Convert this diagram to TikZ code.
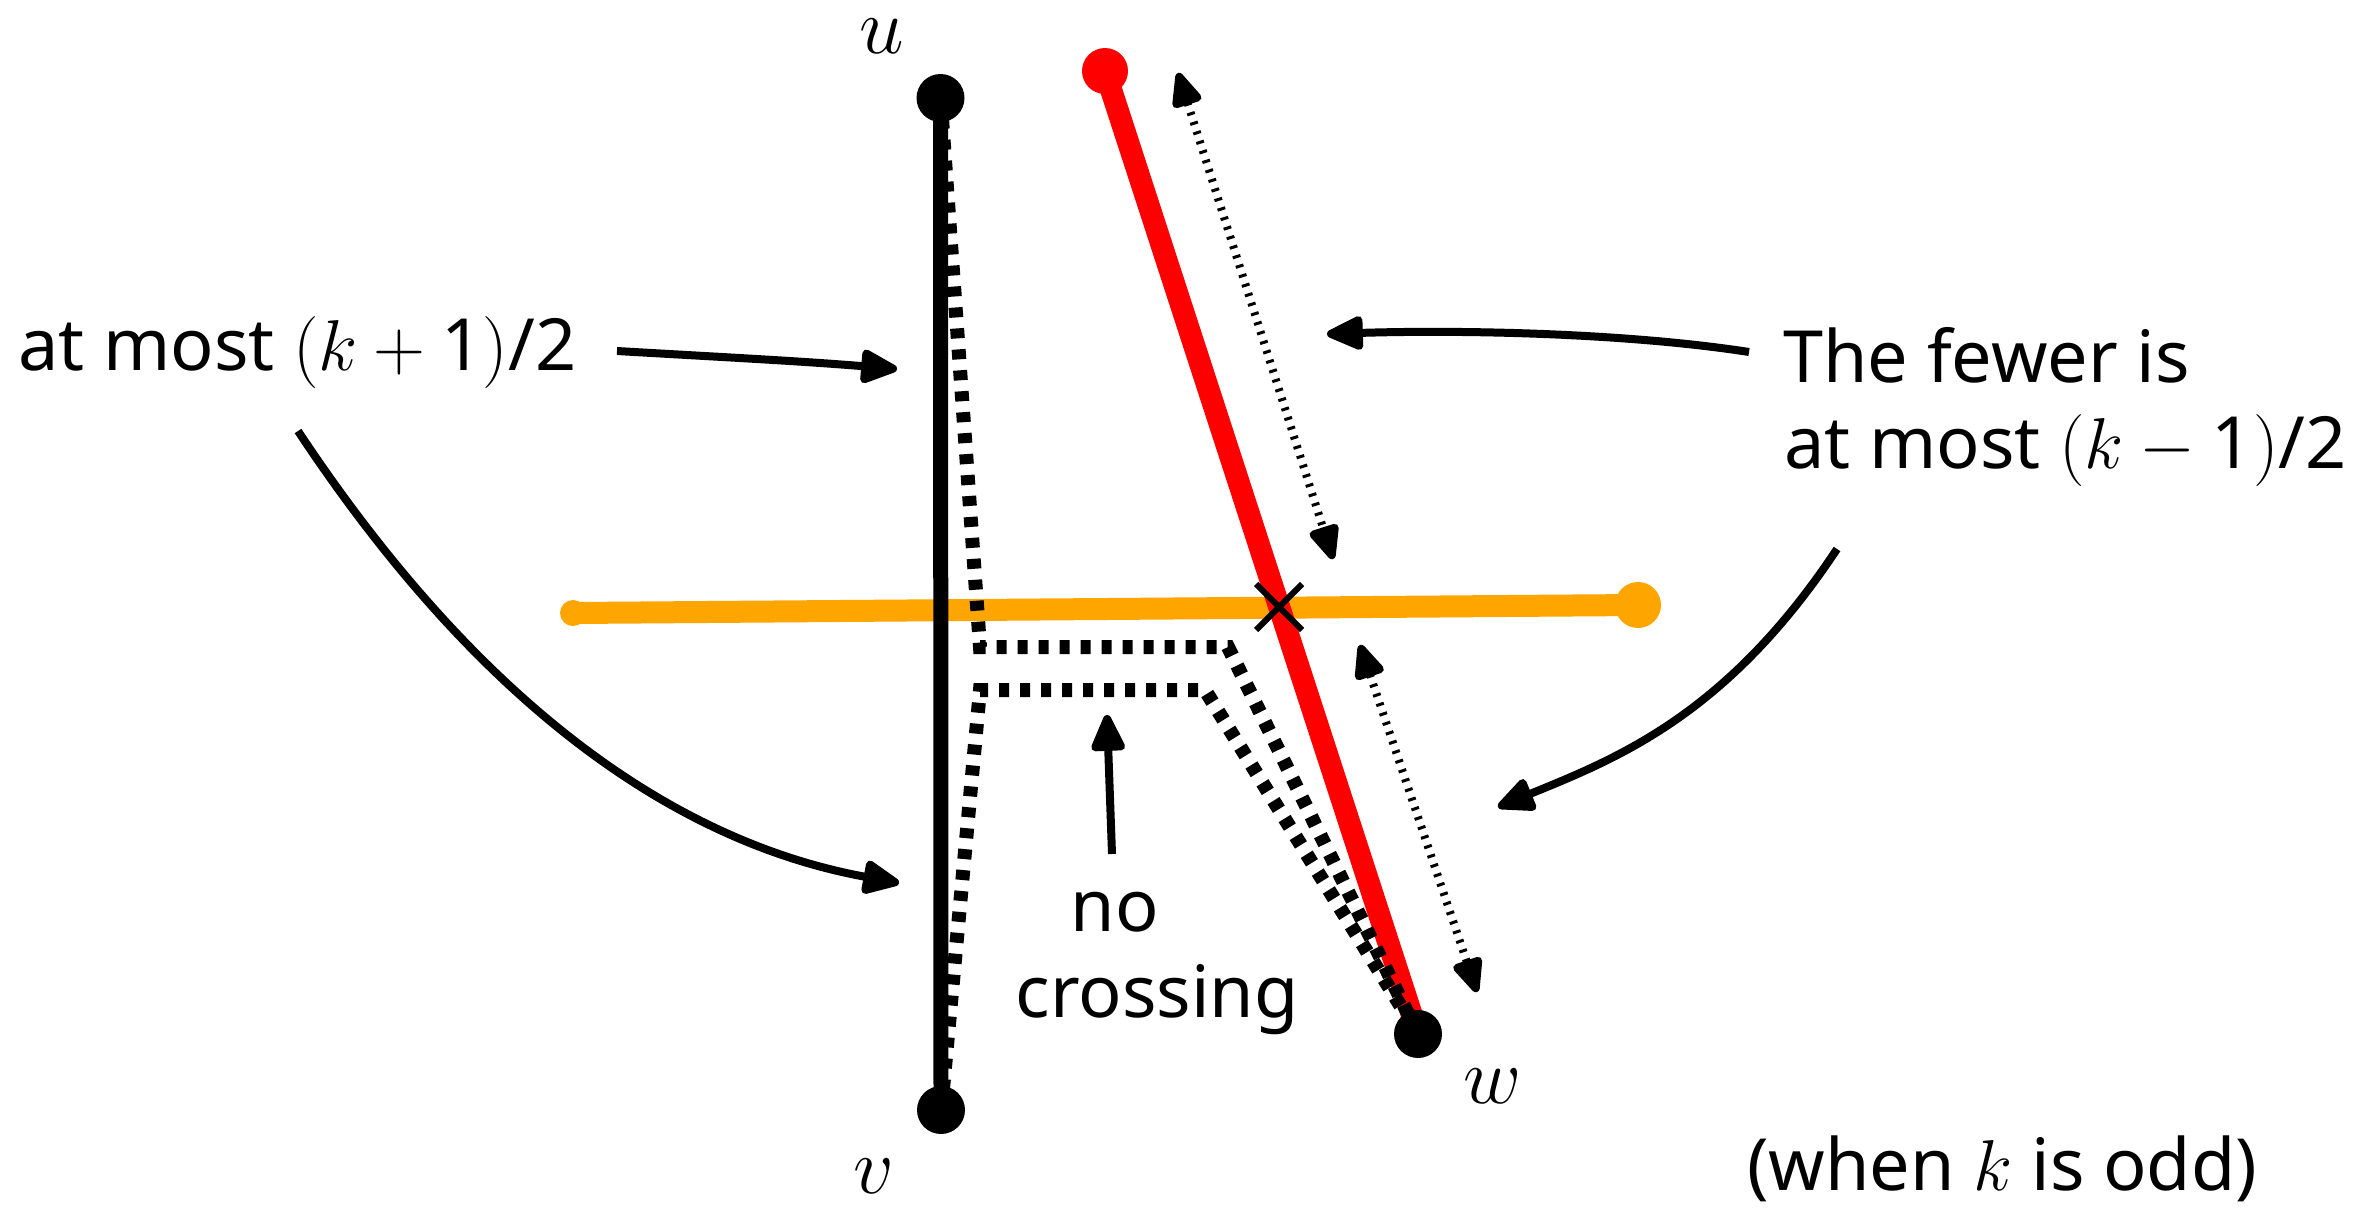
\RequirePackage{fix-cm}
\documentclass[tikz,border=0pt]{standalone}
\usepackage{fontspec}
\setmainfont{Noto Sans}
\usetikzlibrary{arrows.meta,shapes.misc}
\definecolor{orng}{RGB}{255,165,0}
\definecolor{rd}{RGB}{255,0,0}
\pgfdeclarelayer{bg}
\pgfsetlayers{bg,main}
\begin{document}
\begin{tikzpicture}[x=1pt,y=-1pt,
  blackdot/.style={circle,fill=black,inner sep=0pt,minimum size=48pt},
  reddot/.style={circle,fill=rd,inner sep=0pt,minimum size=46pt},
  orangedot/.style={circle,fill=orng,inner sep=0pt},
  lbl/.style={inner sep=0pt,font=\fontsize{72}{84}\selectfont},
  vlbl/.style={inner sep=0pt,font=\fontsize{80}{96}\selectfont},
  ptr/.style={line width=8pt,-{Triangle[length=42pt,width=36pt,round]}},
  dptr/.style={line width=8pt,dash pattern=on 3pt off 7pt,
     {Triangle[length=40pt,width=32pt,round]}-{Triangle[length=40pt,width=32pt,round]}},
  route/.style={line width=14pt,dash pattern=on 10pt off 11pt},
  xmark/.style={cross out,draw=black,line width=6pt,minimum size=40pt,inner sep=0pt},
]
\useasboundingbox (0,0) rectangle (2371,1210);

% vertices
\node[blackdot] (u) at (940.5,98) {};
\node[blackdot] (v) at (941,1110) {};
\node[blackdot] (w) at (1418,1034) {};
\node[reddot] (r) at (1105,71) {};
\node[orangedot,minimum size=26pt] (oL) at (573,613) {};
\node[orangedot,minimum size=46pt] (oR) at (1638,605) {};

\begin{pgfonlayer}{bg}
  \draw[orng,line width=22pt] (oL.center) -- (oR.center);
  \draw[rd,line width=22pt] (r.center) -- (w.center);
  \draw[route] (u.center) -- (980,647) -- (1228,647) -- (w.center);
  \draw[route] (v.center) -- (980,690) -- (1205,690) -- (w.center);
  \draw[line width=15pt] (u.center) -- (v.center);
\end{pgfonlayer}

% crossing mark
\node[xmark] (x) at (1279,607) {};

% vertex labels
\node[vlbl,anchor=base] (ul) at (882,53) {$u$};
\node[vlbl,anchor=base] (vl) at (874,1193) {$v$};
\node[vlbl,anchor=base] (wl) at (1493,1103) {$w$};

% texts
\node[lbl,anchor=base west] (t1) at (18,370) {at most $(k+\mbox{1})\mbox{/2}$};
\node[lbl,anchor=base west] (t2a) at (1783,382) {The fewer is};
\node[lbl,anchor=base west] (t2b) at (1784,468) {at most $(k-\mbox{1})\mbox{/2}$};
\node[lbl,anchor=base] (t3a) at (1115,931) {no};
\node[lbl,anchor=base] (t3b) at (1157,1017) {crossing};
\node[lbl,anchor=base west] (t4) at (1747,1190) {(when $k$ is odd)};

% arrow endpoints
\coordinate (a1s) at (617,351);
\coordinate (a1e) at (897,369);
\coordinate (a2s) at (298,431);
\coordinate (a2e) at (899,883);
\coordinate (a3s) at (1749,352);
\coordinate (a3e) at (1327,334);
\coordinate (a4s) at (1837,549);
\coordinate (a4e) at (1498,807);
\coordinate (a5s) at (1112,854);
\coordinate (a5e) at (1107,715);
\coordinate (d1s) at (1178,73);
\coordinate (d1e) at (1333,559);
\coordinate (d2s) at (1360,645);
\coordinate (d2e) at (1477,992);

\draw[ptr] (a1s) .. controls (720,357) and (800,361) .. (a1e);
\draw[ptr] (a2s) .. controls (463,680) and (654,838) .. (a2e);
\draw[ptr] (a3s) .. controls (1620,332) and (1450,330) .. (a3e);
\draw[ptr] (a4s) .. controls (1727,715) and (1618,758) .. (a4e);
\draw[ptr] (a5s) -- (a5e);

\draw[dptr] (d1s) -- (d1e);
\draw[dptr] (d2s) -- (d2e);
\end{tikzpicture}
\end{document}
